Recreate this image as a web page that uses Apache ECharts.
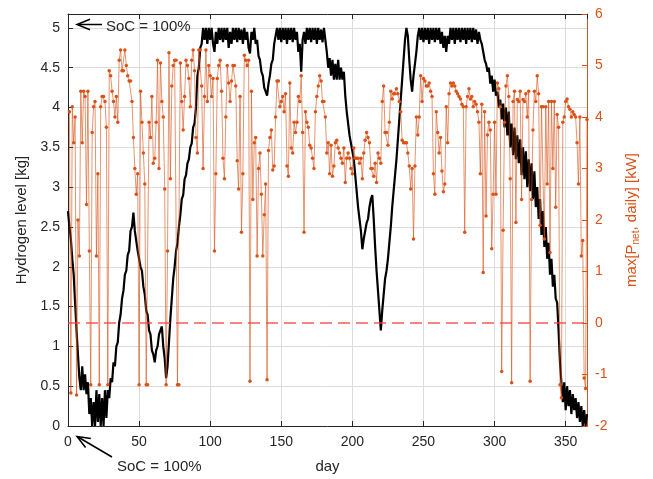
<!DOCTYPE html>
<html>
<head>
<meta charset="utf-8">
<script src="https://cdn.jsdelivr.net/npm/echarts/dist/echarts.min.js"></script>
<style>
  html, body { margin: 0; padding: 0; background: #ffffff; }
  #chart { width: 653px; height: 479px; }
</style>
</head>
<body>
<div id="chart"></div>
<script>
// Hydrogen tank level [kg], one value per day from day 0 to day 365
const hydrogenKg = [
  2.7, 2.5, 2.35, 2.1, 1.9, 1.55, 1.2, 0.9, 0.6, 0.45,
  0.75, 0.45, 0.65, 0.4, 0.55, 0.15, 0.35, 0.0, 0.3, 0.0,
  0.45, 0.05, 0.4, 0.0, 0.35, 0.0, 0.45, 0.1, 0.45, 0.35,
  0.6, 0.55, 0.8, 0.75, 1.0, 1.05, 1.3, 1.4, 1.6, 1.7,
  1.9, 1.95, 2.15, 2.2, 2.45, 2.5, 2.68, 2.45, 2.45, 2.2,
  2.2, 2.0, 1.95, 1.75, 1.65, 1.45, 1.4, 1.2, 1.15, 0.95,
  0.9, 0.8, 0.95, 1.0, 1.15, 1.15, 1.25, 1.0, 0.85, 0.6,
  0.75, 1.05, 1.35, 1.6, 1.85, 2.0, 2.2, 2.3, 2.5, 2.65,
  2.85, 2.9, 3.1, 3.15, 3.3, 3.35, 3.5, 3.55, 3.75, 3.8,
  4.0, 4.4, 4.5, 4.75, 4.8, 5.0, 4.85, 5.0, 4.8, 5.0,
  4.85, 5.0, 4.8, 4.7, 4.95, 4.8, 5.0, 4.85, 5.0, 4.82,
  5.0, 4.85, 5.0, 4.75, 4.95, 4.8, 5.0, 4.85, 5.0, 4.82,
  5.0, 4.85, 4.98, 4.8, 5.0, 4.85, 4.95, 4.75, 4.68, 4.95,
  4.85, 5.0, 4.8, 4.85, 4.65, 4.6, 4.45, 4.4, 4.25, 4.25,
  4.15, 4.3, 4.4, 4.55, 4.6, 4.8, 4.9, 5.0, 4.85, 5.0,
  4.82, 5.0, 4.85, 5.0, 4.8, 5.0, 4.85, 5.0, 4.82, 5.0,
  4.85, 4.95, 4.7, 4.8, 4.45, 4.85, 4.95, 4.8, 5.0, 4.85,
  5.0, 4.82, 5.0, 4.85, 5.0, 4.8, 5.0, 4.85, 4.98, 4.82,
  5.0, 4.85, 4.7, 4.5, 4.62, 4.4, 4.6, 4.35, 4.55, 4.35,
  4.6, 4.35, 4.5, 4.35, 4.45, 4.15, 3.95, 3.8, 3.65, 3.55,
  3.45, 3.35, 3.15, 2.95, 2.75, 2.6, 2.45, 2.22, 2.35, 2.45,
  2.55, 2.6, 2.75, 2.85, 2.9, 2.6, 2.25, 1.95, 1.7, 1.45,
  1.2, 1.45, 1.65, 1.85, 1.95, 2.1, 2.3, 2.5, 2.75, 2.95,
  3.15, 3.35, 3.6, 3.85, 4.1, 4.35, 4.6, 4.85, 5.0, 4.9,
  4.6, 4.35, 4.2, 4.4, 4.55, 4.7, 4.9, 5.0, 4.85, 5.0,
  4.82, 5.0, 4.85, 5.0, 4.8, 5.0, 4.85, 5.0, 4.82, 5.0,
  4.85, 5.0, 4.8, 4.95, 4.75, 4.9, 4.7, 4.9, 4.8, 5.0,
  4.85, 5.0, 4.8, 5.0, 4.85, 5.0, 4.82, 5.0, 4.85, 5.0,
  4.8, 5.0, 4.85, 5.0, 4.82, 5.0, 4.85, 4.98, 4.8, 4.95,
  4.85, 4.8, 4.7, 4.6, 4.55, 4.45, 4.5, 4.3, 4.4, 4.2,
  4.35, 4.15, 4.2, 4.0, 4.1, 3.85, 4.05, 3.75, 4.0, 3.65,
  3.95, 3.5, 3.8, 3.4, 3.75, 3.35, 3.65, 3.3, 3.6, 3.15,
  3.5, 3.1, 3.45, 3.0, 3.35, 2.95, 3.3, 2.85, 3.2, 2.75,
  3.0, 2.6, 2.85, 2.4, 2.7, 2.25, 2.5, 2.1, 2.3, 1.9,
  2.1, 1.75, 1.9, 1.6, 1.55, 1.2, 0.8, 0.55, 0.3, 0.55,
  0.2, 0.5, 0.25, 0.45, 0.15, 0.4, 0.2, 0.35, 0.1, 0.3,
  0.05, 0.25, 0.0, 0.2, 0.0, 0.15
];

// Daily maximum of net power [kW], days 1 to 365
const pNetMaxKw = [
  4.1, -1.36, 4.2, 3.5, 4.0, -1.4, 2.0, 1.3, 4.5, 3.5,
  4.5, 4.4, 2.3, 4.5, 1.4, -1.2, 3.7, 4.2, 4.3, 1.3,
  2.9, -1.2, 4.2, 4.4, 4.4, 4.3, 3.8, -1.2, 4.9, 4.8,
  4.5, 4.3, 4.0, 4.4, 3.9, 5.1, 5.3, 4.9, 4.9, 5.3,
  5.0, 4.8, 4.7, 4.7, 4.3, 3.6, 3.0, 2.5, 2.9, -1.2,
  4.5, 3.9, 3.3, 2.7, -1.2, -1.2, 3.9, 3.6, 4.4, 3.1,
  3.2, 3.9, 5.1, 3.0, 5.05, 4.3, 4.0, 2.6, -1.2, 1.4,
  5.25, 2.8, 4.6, 5.0, 5.1, 5.1, -1.2, -1.2, 5.05, 4.3,
  3.75, 4.4, 5.1, 5.0, 4.75, 4.2, 5.1, 5.3, 4.9, 3.6,
  3.3, 5.3, 5.3, 4.6, 3.0, 4.4, 5.3, 4.3, 5.0, 4.8,
  4.4, 4.75, 1.4, 2.9, 4.75, 5.0, 5.1, 4.5, 3.2, 2.8,
  4.0, 5.0, 4.66, 4.3, 4.7, 5.0, 5.0, 4.6, 3.15, 2.6,
  4.4, 1.76, 2.9, 5.2, 5.1, 5.0, 5.1, -1.13, 4.5, 2.4,
  3.5, 3.6, 1.3, 3.0, 3.3, 2.5, 1.3, 2.1, 2.7, -1.1,
  3.35, 3.6, 3.75, 2.97, 3.05, 4.0, 4.7, 4.7, 4.2, 4.3,
  4.4, 4.1, 4.45, 3.05, 2.85, 4.66, 3.4, 3.3, 3.9, 3.7,
  3.9, 4.4, 4.3, 4.8, 3.7, 1.76, 4.1, 3.9, 3.8, 3.45,
  3.4, 3.2, 3.0, 4.1, 4.4, 4.6, 4.8, 4.7, 4.3, 4.3,
  4.0, 3.3, 3.5, 2.9, 3.45, 2.85, 3.05, 3.5, 3.55, 3.4,
  3.3, 3.2, 3.1, 3.4, 2.73, 3.2, 3.3, 3.2, 3.0, 2.9,
  3.4, 3.2, 3.2, 3.2, 3.1, 3.2, 2.8, 3.3, 3.55, 3.7,
  3.6, 3.5, 3.0, 3.0, 2.85, 3.1, 2.73, 3.3, 3.2, 3.1,
  4.3, 4.6, 3.7, 3.7, 3.45, 3.9, 4.5, 4.35, 4.45, 4.45,
  4.55, 4.45, 4.3, 4.1, 3.55, 3.5, 3.5, 3.5, 3.3, 3.05,
  2.6, 3.0, 1.63, 3.05, 4.0, 3.65, 4.0, 4.8, 4.3, 4.75,
  4.7, 4.6, 4.6, 4.66, 4.5, 4.4, 2.9, 2.5, 4.1, 3.7,
  3.3, 3.6, 2.95, 2.55, 2.7, 4.2, 3.5, 4.45, 4.66, 4.6,
  4.66, 4.6, 4.5, 4.45, 4.4, 4.35, 4.25, 4.2, 1.76, 4.2,
  4.4, 4.55, 4.35, 4.4, 4.2, 4.3, 4.25, 4.1, 3.9, 2.9,
  4.25, 0.98, 4.1, 2.08, 3.65, 3.9, 3.75, 1.44, 2.5, 3.9,
  2.5, 4.66, 4.55, 4.2, -0.94, 1.8, 3.9, 4.6, 4.8, 4.4,
  2.8, -1.16, 4.3, 4.5, 1.95, 4.34, 4.3, 4.5, 2.4, 4.34,
  4.3, 4.45, 4.0, 4.5, -1.13, 2.4, 3.75, 4.5, 4.3, 4.8,
  4.45, 1.9, 4.2, 4.2, 1.63, 4.2, 2.7, 4.3, 1.37, 4.3,
  3.0, 4.3, 2.25, 4.05, 3.8, -1.2, -1.45, 3.9, 4.0, 4.3,
  4.35, 4.2, 4.15, 4.0, 4.1, 4.05, 4.0, 3.5, 2.7, 4.0,
  1.3, 1.6, -1.07, -1.27, 3.95
];

// Axis ranges and tick steps
const dayRange = [0, 365];
const dayStep = 50;
const levelRange = [0, 5.175];
const levelStep = 0.5;
const powerRange = [-2, 6];
const powerStep = 1;
const zeroPowerLevel = [0];
const socNote = 'SoC = 100%';

const INK = '#262626';
const ORANGE = '#D95319';
const FONT = '"Liberation Sans", Arial, Helvetica, sans-serif';

const levelPoints = hydrogenKg.map((v, i) => [i, v]);
const powerPoints = pNetMaxKw.map((v, i) => [i + 1, v]);

// open arrowhead polyline ending at (tx, ty), coming from (fx, fy)
function arrowHead(fx, fy, tx, ty, len, ang) {
  const a = Math.atan2(fy - ty, fx - tx);
  return [
    [tx + len * Math.cos(a + ang), ty + len * Math.sin(a + ang)],
    [tx, ty],
    [tx + len * Math.cos(a - ang), ty + len * Math.sin(a - ang)]
  ];
}

const chart = echarts.init(document.getElementById('chart'), null, { renderer: 'canvas' });

const tickLabel = { color: INK, fontSize: 14, fontFamily: FONT };

chart.setOption({
  animation: false,
  backgroundColor: '#ffffff',
  grid: { left: 68, right: 66, top: 14, bottom: 51, containLabel: false },
  xAxis: [
    {
      type: 'value', position: 'bottom',
      min: dayRange[0], max: dayRange[1], interval: dayStep,
      name: 'day', nameLocation: 'middle', nameGap: 33,
      nameTextStyle: { color: INK, fontSize: 15, fontFamily: FONT },
      axisLine: { show: true, onZero: false, lineStyle: { color: INK, width: 1 } },
      axisTick: { show: true, inside: true, length: 5, lineStyle: { color: INK } },
      axisLabel: Object.assign({ margin: 9, showMaxLabel: false }, tickLabel),
      splitLine: { show: true, lineStyle: { color: '#dcdcdc', width: 1 } }
    },
    {
      type: 'value', position: 'top',
      min: dayRange[0], max: dayRange[1], interval: dayStep,
      axisLine: { show: true, onZero: false, lineStyle: { color: INK, width: 1 } },
      axisTick: { show: true, inside: true, length: 5, lineStyle: { color: INK } },
      axisLabel: { show: false },
      splitLine: { show: false }
    }
  ],
  yAxis: [
    {
      type: 'value', position: 'left',
      min: levelRange[0], max: levelRange[1], interval: levelStep,
      name: 'Hydrogen level [kg]', nameLocation: 'middle', nameGap: 38,
      nameTextStyle: { color: INK, fontSize: 15, fontFamily: FONT },
      axisLine: { show: true, onZero: false, lineStyle: { color: INK, width: 1 } },
      axisTick: { show: true, inside: true, length: 5, lineStyle: { color: INK } },
      axisLabel: Object.assign({ margin: 8, showMaxLabel: false }, tickLabel),
      splitLine: { show: true, lineStyle: { color: '#dcdcdc', width: 1 } }
    },
    {
      type: 'value', position: 'right',
      min: powerRange[0], max: powerRange[1], interval: powerStep,
      name: '{n|max[P}{s|net}{n|, daily] [kW]}', nameLocation: 'middle', nameGap: 36,
      nameTextStyle: {
        color: ORANGE, fontSize: 15, fontFamily: FONT,
        rich: {
          n: { color: ORANGE, fontSize: 15, fontFamily: FONT, lineHeight: 18 },
          s: { color: ORANGE, fontSize: 10, fontFamily: FONT, lineHeight: 10, padding: [10, 0, 0, 0], verticalAlign: 'bottom' }
        }
      },
      axisLine: { show: true, onZero: false, lineStyle: { color: ORANGE, width: 1 } },
      axisTick: { show: true, inside: true, length: 5, lineStyle: { color: ORANGE } },
      axisLabel: { color: ORANGE, fontSize: 14, fontFamily: FONT, margin: 8 },
      splitLine: { show: false }
    }
  ],
  series: [
    {
      name: 'Hydrogen level',
      type: 'line',
      xAxisIndex: 0, yAxisIndex: 0,
      data: levelPoints,
      showSymbol: false, symbol: 'none',
      lineStyle: { color: '#000000', width: 2.2 },
      z: 2, silent: true
    },
    {
      name: 'max Pnet daily',
      type: 'line',
      xAxisIndex: 0, yAxisIndex: 1,
      data: powerPoints,
      symbol: 'circle', symbolSize: 3.5, showSymbol: true,
      itemStyle: { color: ORANGE },
      lineStyle: { color: 'rgba(217,83,25,0.62)', width: 1 },
      z: 3, silent: true,
      markLine: {
        silent: true, symbol: ['none', 'none'],
        label: { show: false },
        lineStyle: { color: 'rgba(255,60,60,0.85)', width: 1.5, type: [12, 6] },
        data: zeroPowerLevel.map(v => ({ yAxis: v }))
      }
    }
  ],
  graphic: [
    // note pointing at the full tank at the top
    { type: 'line', shape: { x1: 102, y1: 24.5, x2: 78, y2: 24.5 },
      style: { stroke: '#000', lineWidth: 1.5 }, z: 10 },
    { type: 'polyline', shape: { points: arrowHead(102, 24.5, 77, 24.5, 14, 0.38) },
      style: { stroke: '#000', lineWidth: 1.5, fill: null }, z: 10 },
    { type: 'text', left: 106, top: 19,
      style: { text: socNote, fill: INK, fontSize: 15, fontFamily: FONT }, z: 10 },
    // note pointing at the start of the year
    { type: 'line', shape: { x1: 112, y1: 457, x2: 78, y2: 437 },
      style: { stroke: '#000', lineWidth: 1.5 }, z: 10 },
    { type: 'polyline', shape: { points: arrowHead(112, 457, 77, 436.5, 14, 0.38) },
      style: { stroke: '#000', lineWidth: 1.5, fill: null }, z: 10 },
    { type: 'text', left: 117, top: 459,
      style: { text: socNote, fill: INK, fontSize: 15, fontFamily: FONT }, z: 10 }
  ]
});
</script>
</body>
</html>
